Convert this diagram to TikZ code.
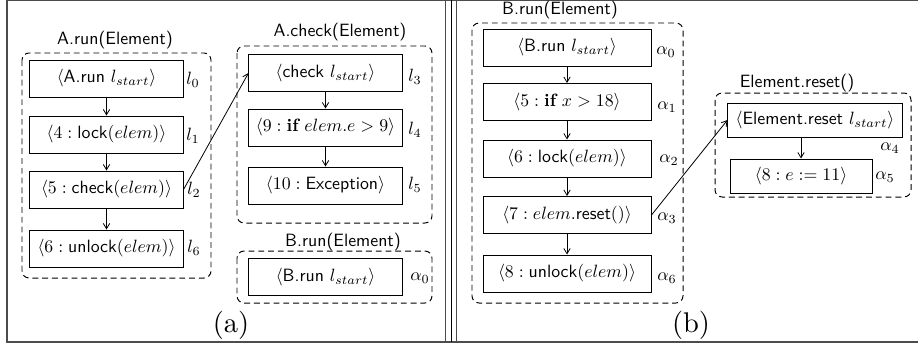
\documentclass[tikz,border=0pt]{standalone}
\usepackage{graphicx}
\usetikzlibrary{arrows.meta}
\begin{document}
\begin{tikzpicture}[x=0.5618pt,y=-0.5618pt,
  bx/.style={draw, line width=0.55pt, inner sep=0pt, minimum height=20.8pt},
  grp/.style={draw, line width=0.55pt, dash pattern=on 3.3pt off 2.2pt, rounded corners=4pt},
  ttl/.style={font=\sffamily, inner sep=0pt},
  lbl/.style={inner sep=0pt},
  arr/.style={-{Straight Barb[length=3pt,width=3.6pt]}, line width=0.45pt},
  subcap/.style={inner sep=0pt},
  frm/.style={draw=black!70, line width=0.7pt}]
\useasboundingbox (0,0) rectangle (918,348);
% frame
\draw[frm] (7,0.8) -- (918,0.8);
\draw[frm] (7,0) -- (7,342) -- (918,342);
\draw[frm] (445.7,0) -- (445.7,342);
\draw[black, line width=0.5pt] (451.3,0) -- (451.3,342);
\draw[frm] (456.7,0) -- (456.7,342);

% ---------- (a) A.run ----------
\draw[grp] (22,53) rectangle (211,278);
\node[ttl] (tar) at (115,40) {A.run(Element)};
\node[bx, minimum width=86pt] (a1) at (106.5,78.5) {$\langle\textsf{A.run}\ l_{start}\rangle$};
\node[bx, minimum width=86pt] (a2) at (106.5,134.5) {$\langle 4:\textsf{lock}(elem)\rangle$};
\node[bx, minimum width=86pt] (a3) at (106.5,189.5) {$\langle 5:\textsf{check}(elem)\rangle$};
\node[bx, minimum width=86pt] (a4) at (106.5,248.5) {$\langle 6:\textsf{unlock}(elem)\rangle$};
\node[lbl] (l0) at (193,80) {$l_0$};
\node[lbl] (l1) at (193,136) {$l_1$};
\node[lbl] (l2) at (194,190) {$l_2$};
\node[lbl] (l6) at (194,248) {$l_6$};
\draw[arr] (a1) -- (a2);
\draw[arr] (a2) -- (a3);
\draw[arr] (a3) -- (a4);

% ---------- (a) A.check ----------
\draw[grp] (237,46) rectangle (432,223);
\node[ttl] (tac) at (340,32) {A.check(Element)};
\node[bx, minimum width=86pt] (c1) at (325.5,73) {$\langle\textsf{check}\ l_{start}\rangle$};
\node[bx, minimum width=86pt] (c2) at (325.5,127.5) {$\langle 9:\textbf{if}\ elem.e>9\rangle$};
\node[bx, minimum width=86pt] (c3) at (325.5,185.5) {$\langle 10:\textsf{Exception}\rangle$};
\node[lbl] (l3) at (415,77) {$l_3$};
\node[lbl] (l4) at (415,130) {$l_4$};
\node[lbl] (l5) at (415,185) {$l_5$};
\draw[arr] (c1) -- (c2);
\draw[arr] (c2) -- (c3);
\draw[arr] (a3.east) -- (c1.west);

% ---------- (a) B.run ----------
\draw[grp] (237,251) rectangle (432,303);
\node[ttl] (tab) at (343,242) {B.run(Element)};
\node[bx, minimum width=86pt] (d1) at (325.5,277) {$\langle\textsf{B.run}\ l_{start}\rangle$};
\node[lbl] (la0) at (420,278) {$\alpha_0$};

\node[subcap] (capa) at (231,325) {\scalebox{1.6}{(a)}};

% ---------- (b) B.run ----------
\draw[grp] (472,23) rectangle (683,303);
\node[ttl] (tbb) at (560,10) {B.run(Element)};
\node[bx, minimum width=94.4pt] (b1) at (567,47.5) {$\langle\textsf{B.run}\ l_{start}\rangle$};
\node[bx, minimum width=94.4pt] (b2) at (567,102) {$\langle 5:\textbf{if}\ x>18\rangle$};
\node[bx, minimum width=94.4pt] (b3) at (567,158.5) {$\langle 6:\textsf{lock}(elem)\rangle$};
\node[bx, minimum width=94.4pt] (b4) at (567,215) {$\langle 7: elem.\textsf{reset}()\rangle$};
\node[bx, minimum width=94.4pt] (b5) at (567,273.5) {$\langle 8:\textsf{unlock}(elem)\rangle$};
\node[lbl] (b0l) at (666,52) {$\alpha_0$};
\node[lbl] (b1l) at (667,107) {$\alpha_1$};
\node[lbl] (b2l) at (669,160) {$\alpha_2$};
\node[lbl] (b3l) at (667,218) {$\alpha_3$};
\node[lbl] (b6l) at (667,278) {$\alpha_6$};
\draw[arr] (b1) -- (b2);
\draw[arr] (b2) -- (b3);
\draw[arr] (b3) -- (b4);
\draw[arr] (b4) -- (b5);

% ---------- (b) Element.reset ----------
\draw[grp] (715,93) rectangle (911,197);
\node[ttl] (ter) at (797,83) {Element.reset()};
\node[bx, minimum width=97.8pt, minimum height=19.1pt] (e1) at (815,120) {$\langle\textsf{Element.reset}\ l_{start}\rangle$};
\node[bx, minimum width=79.8pt, minimum height=19.1pt] (e2) at (801,176) {$\langle 8: e:=11\rangle$};
\node[lbl] (e4l) at (890,148) {$\alpha_4$};
\node[lbl] (e5l) at (885,177) {$\alpha_5$};
\draw[arr] (e2.north |- e1.south) -- (e2.north);
\draw[arr] (b4.east) -- (e1.west);

\node[subcap] (capb) at (691,325) {\scalebox{1.6}{(b)}};
\end{tikzpicture}
\end{document}
